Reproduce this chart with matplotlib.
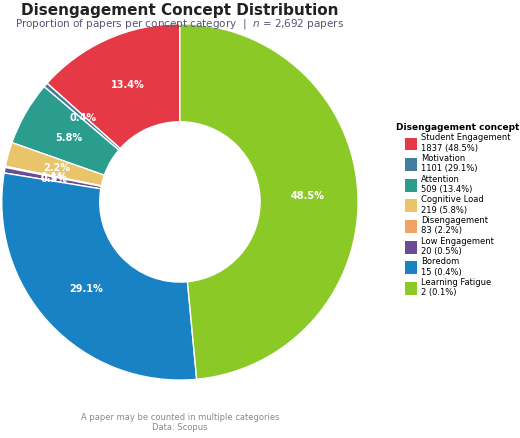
import numpy as np
import matplotlib.pyplot as plt
from matplotlib.patches import Patch

# legend entries
concepts = ['Student Engagement', 'Motivation', 'Attention', 'Cognitive Load',
            'Disengagement', 'Low Engagement', 'Boredom', 'Learning Fatigue']
counts = [1837, 1101, 509, 219, 83, 20, 15, 2]
legend_pct = [48.5, 29.1, 13.4, 5.8, 2.2, 0.5, 0.4, 0.1]
colors = ['#E63946', '#457B9D', '#2A9D8F', '#E9C46A',
          '#F4A261', '#6A4C93', '#1982C4', '#8AC926']

# slice sizes as drawn (counterclockwise from top, in colour order)
slice_pct = [13.4, 0.4, 5.8, 2.2, 0.1, 0.5, 29.1, 48.5]

fig = plt.figure(figsize=(5.2, 4.38), dpi=100)
ax = fig.add_axes([0.0, 0.128, 0.692, 0.822])

wedges, _ = ax.pie(slice_pct, colors=colors, startangle=90, counterclock=True,
                   radius=1.0, wedgeprops=dict(width=0.55, edgecolor='white', linewidth=1))
for w, p in zip(wedges, slice_pct):
    mid = np.deg2rad((w.theta1 + w.theta2) / 2)
    r = 0.72
    ax.text(r * np.cos(mid), r * np.sin(mid), f'{p}%', ha='center', va='center',
            color='white', fontsize=7, fontweight='bold')
ax.set_xlim(-1.01, 1.01)
ax.set_ylim(-1.01, 1.01)
ax.set_aspect('equal')

fig.text(0.346, 0.975, 'Disengagement Concept Distribution', ha='center', va='center',
         fontsize=11, fontweight='bold', color='#222222')
fig.text(0.346, 0.945, 'Proportion of papers per concept category  |  $n$ = 2,692 papers',
         ha='center', va='center', fontsize=7.5, color='#555577')
fig.text(0.346, 0.035, 'A paper may be counted in multiple categories\nData: Scopus',
         ha='center', va='center', fontsize=6, color='#888888', linespacing=1.1)

handles = [Patch(facecolor=c, edgecolor='none') for c in colors]
labels = [f'{n}\n{c} ({p}%)' for n, c, p in zip(concepts, counts, legend_pct)]
fig.legend(handles, labels, title='Disengagement concept', loc='center left',
           bbox_to_anchor=(0.75, 0.52), frameon=False, fontsize=6,
           title_fontproperties={'weight': 'bold', 'size': 6.5},
           handlelength=1.4, handleheight=2.0, labelspacing=0.15, handletextpad=0.5,
           borderpad=0.2)

fig.savefig('out.png', dpi=100, facecolor='white')
